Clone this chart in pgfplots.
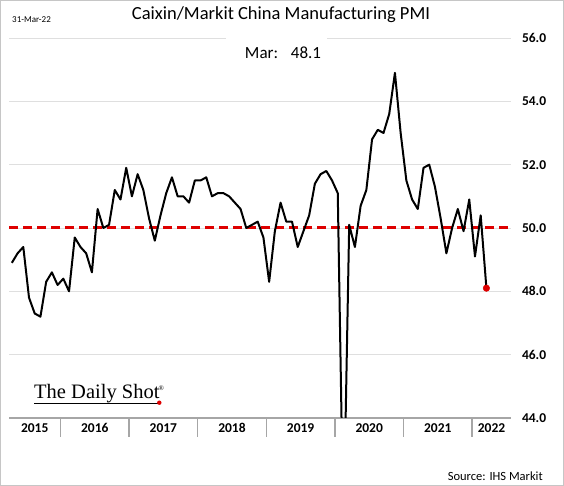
\documentclass[border=0pt]{standalone}
\usepackage{pgfplots}
\pgfplotsset{compat=1.18}
\usepackage{fontspec}
\setmainfont{Carlito}
\newfontfamily\logofont{Liberation Serif}
\definecolor{pmired}{RGB}{222,0,0}
\begin{document}
\begin{tikzpicture}
\useasboundingbox (0,0) rectangle (564pt,486pt);
\fill[white] (0,0) rectangle (564pt,486pt);
\begin{axis}[
  at={(9pt,68pt)}, anchor=south west,
  width=502pt, height=380pt, scale only axis,
  xmin=3, xmax=90.8, ymin=44, ymax=56,
  axis x line*=bottom, axis y line*=right,
  y axis line style={draw=none},
  x axis line style={draw=gray!70, line width=1.3pt},
  xtick={12,24,36,48,60,72,84},
  xticklabels={},
  tick align=outside,
  major tick length=19pt,
  xtick style={draw=gray!70, line width=1.3pt},
  extra x ticks={7.5,18,30,42,54,66,78,87.4},
  extra x tick labels={2015,2016,2017,2018,2019,2020,2021,2022},
  extra x tick style={major tick length=0pt, tick style={draw=none}},
  xticklabel style={font=\bfseries\fontsize{13.5}{14}\selectfont, anchor=base, yshift=-15pt},
  ytick={44,46,48,50,52,54,56},
  yticklabels={44.0,46.0,48.0,50.0,52.0,54.0,56.0},
  ytick style={draw=none},
  yticklabel style={font=\bfseries\fontsize{13.5}{14}\selectfont, anchor=west, xshift=-11.5pt},
  ymajorgrids, grid style={draw=gray!25, line width=0.8pt},
]
\addplot[pmired, line width=3pt, dash pattern=on 9pt off 5pt] coordinates {(3,50) (90.3,50)};
\addplot[black, line width=2pt, line join=round] coordinates {
(3.5,48.9) (4.5,49.2) (5.5,49.4) (6.5,47.8) (7.5,47.3) (8.5,47.2) (9.5,48.3) (10.5,48.6) (11.5,48.2)
(12.5,48.4) (13.5,48.0) (14.5,49.7) (15.5,49.4) (16.5,49.2) (17.5,48.6) (18.5,50.6) (19.5,50.0) (20.5,50.1) (21.5,51.2) (22.5,50.9) (23.5,51.9)
(24.5,51.0) (25.5,51.7) (26.5,51.2) (27.5,50.3) (28.5,49.6) (29.5,50.4) (30.5,51.1) (31.5,51.6) (32.5,51.0) (33.5,51.0) (34.5,50.8) (35.5,51.5)
(36.5,51.5) (37.5,51.6) (38.5,51.0) (39.5,51.1) (40.5,51.1) (41.5,51.0) (42.5,50.8) (43.5,50.6) (44.5,50.0) (45.5,50.1) (46.5,50.2) (47.5,49.7)
(48.5,48.3) (49.5,49.9) (50.5,50.8) (51.5,50.2) (52.5,50.2) (53.5,49.4) (54.5,49.9) (55.5,50.4) (56.5,51.4) (57.5,51.7) (58.5,51.8) (59.5,51.5)
(60.5,51.1) (61.5,40.3) (62.5,50.1) (63.5,49.4) (64.5,50.7) (65.5,51.2) (66.5,52.8) (67.5,53.1) (68.5,53.0) (69.5,53.6) (70.5,54.9) (71.5,53.0)
(72.5,51.5) (73.5,50.9) (74.5,50.6) (75.5,51.9) (76.5,52.0) (77.5,51.3) (78.5,50.3) (79.5,49.2) (80.5,50.0) (81.5,50.6) (82.5,49.9) (83.5,50.9)
(84.5,49.1) (85.5,50.4) (86.5,48.1)
};
\addplot[only marks, mark=*, mark size=3.3pt, pmired, mark options={draw=pmired, fill=pmired}] coordinates {(86.5,48.1)};
\end{axis}
% subtitle box over top gridline
\fill[white] (226pt,440pt) rectangle (327pt,454pt);
\node[anchor=base, inner sep=0pt] at (281pt,466pt) {\fontsize{18.5}{20}\selectfont Caixin/Markit China Manufacturing PMI};
\node[anchor=base, inner sep=0pt] at (283pt,427pt) {\fontsize{17}{19}\selectfont Mar:\hspace{0.75em}48.1};
\node[anchor=base west, inner sep=0pt] at (12pt,463pt) {\fontsize{9}{10}\selectfont 31-Mar-22};
\node[anchor=base east, inner sep=0pt] at (543pt,5pt) {\fontsize{12.5}{14}\selectfont Source: IHS Markit};
% logo
\node[anchor=base west, inner sep=0pt] (logo) at (34pt,87pt) {\logofont\fontsize{20.5}{22}\selectfont The Daily Shot};
\node[anchor=base west, inner sep=0pt] at (158.5pt,95pt) {\logofont\fontsize{7}{8}\selectfont\textregistered};
\draw[black, line width=1.2pt] (34pt,82.7pt) -- (158pt,82.7pt);
\fill[pmired] (159.3pt,83.3pt) circle (2.2pt);
\draw[gray!45, line width=1pt] (0.5pt,0.5pt) rectangle (563.5pt,485.5pt);
\end{tikzpicture}
\end{document}
